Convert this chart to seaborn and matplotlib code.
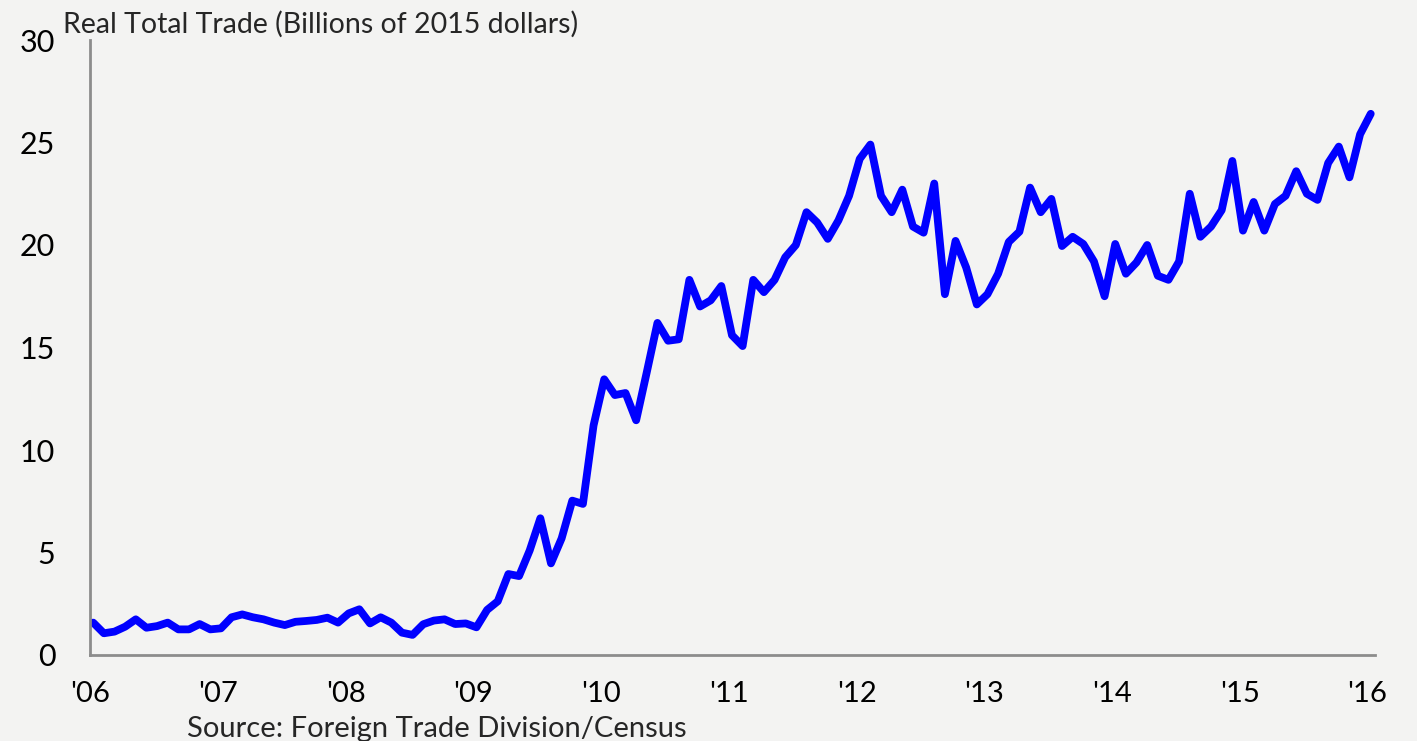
import numpy as np
import pandas as pd
import matplotlib
matplotlib.use("Agg")
import matplotlib.pyplot as plt
import seaborn as sns

# monthly real total trade, Jan 2006 .. Jan 2016 (billions of 2015 dollars)
trade = [
    1.58, 1.06, 1.14, 1.38, 1.74, 1.33, 1.41, 1.58, 1.25, 1.25, 1.51, 1.25,   # 2006
    1.30, 1.84, 1.98, 1.84, 1.74, 1.58, 1.46, 1.62, 1.66, 1.71, 1.82, 1.58,   # 2007
    2.03, 2.23, 1.54, 1.84, 1.58, 1.09, 0.98, 1.50, 1.68, 1.74, 1.51, 1.54,   # 2008
    1.35, 2.20, 2.62, 3.95, 3.85, 5.10, 6.67, 4.47, 5.69, 7.53, 7.37, 11.2,   # 2009
    13.45, 12.68, 12.78, 11.45, 13.8, 16.2, 15.33, 15.4, 18.3, 17.0, 17.3, 18.0,  # 2010
    15.6, 15.07, 18.3, 17.7, 18.3, 19.4, 20.0, 21.6, 21.1, 20.3, 21.2, 22.4,  # 2011
    24.2, 24.9, 22.4, 21.6, 22.7, 20.9, 20.6, 23.0, 17.6, 20.2, 18.9, 17.1,   # 2012
    17.6, 18.6, 20.15, 20.65, 22.8, 21.6, 22.25, 19.95, 20.4, 20.05, 19.2, 17.5,  # 2013
    20.05, 18.6, 19.15, 20.0, 18.5, 18.3, 19.2, 22.5, 20.4, 20.9, 21.7, 24.1,  # 2014
    20.7, 22.1, 20.7, 22.0, 22.4, 23.6, 22.5, 22.2, 24.0, 24.8, 23.3, 25.4,   # 2015
    26.4,                                                                      # 2016
]
year_labels = ["'06", "'07", "'08", "'09", "'10", "'11", "'12", "'13", "'14", "'15", "'16"]
y_ticks = [0, 5, 10, 15, 20, 25, 30]

df = pd.DataFrame({"month": np.arange(len(trade)), "trade": trade})

bg = "#f3f3f2"
grey = "#8c8c8c"
sns.set_style("white", {"axes.facecolor": bg, "figure.facecolor": bg})
plt.rcParams["font.family"] = ["Lato", "DejaVu Sans"]

fig = plt.figure(figsize=(14.17, 7.41), dpi=100)
ax = fig.add_axes([90 / 1417, 86 / 741, 1285 / 1417, 615 / 741])

sns.lineplot(data=df, x="month", y="trade", ax=ax, color="#0000ff", linewidth=5.6,
             solid_joinstyle="round", solid_capstyle="round")

ax.set_xlim(-0.3, 120.4)
ax.set_ylim(0, 30)
ax.set_xticks([12 * i - 0.3 for i in range(len(year_labels))])
ax.set_xticklabels(year_labels)
ax.set_yticks(y_ticks)
ax.set_xlabel("")
ax.set_ylabel("")

for side in ["top", "right"]:
    ax.spines[side].set_visible(False)
for side in ["left", "bottom"]:
    ax.spines[side].set_color(grey)
    ax.spines[side].set_linewidth(2)

ax.tick_params(axis="x", direction="out", length=8, width=1.5, color=grey,
               labelsize=21, pad=11, labelcolor="black")
ax.tick_params(axis="y", direction="out", length=4, width=1.5, color=grey,
               labelsize=22, pad=21, labelcolor="black")

fig.text(63 / 1417, 1 - 33 / 741, "Real Total Trade (Billions of 2015 dollars)",
         fontsize=20.5, ha="left", va="baseline")
fig.text(187 / 1417, 1 - 716 / 741, "Source: Foreign Trade Division/Census",
         fontsize=21, ha="left", va="top")

fig.savefig("out.png", dpi=100, facecolor=bg)
